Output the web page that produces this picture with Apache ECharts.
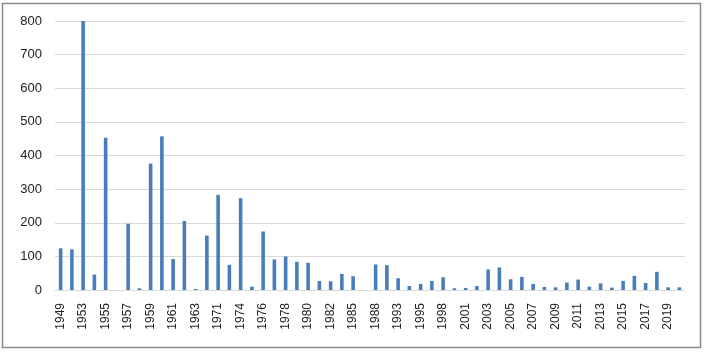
<!DOCTYPE html>
<html>
<head>
<meta charset="utf-8">
<script src="https://cdn.jsdelivr.net/npm/echarts@6/dist/echarts.min.js"></script>
<style>
  html, body { margin: 0; padding: 0; background: #fff; }
  #chart { width: 704px; height: 352px; }
</style>
</head>
<body>
<div id="chart"></div>
<script>
// categories (only every other one gets a label, like the original)
const years = [
  '1949', '1952', '1953', '1954', '1955', '1956', '1957', '1958', '1959', '1960',
  '1961', '1962', '1963', '1969', '1971', '1972', '1974', '1975', '1976', '1977',
  '1978', '1979', '1980', '1981', '1982', '1984', '1985', '1986', '1988', '1989',
  '1993', '1994', '1995', '1996', '1998', '1999', '2001', '2002', '2003', '2004',
  '2005', '2006', '2007', '2008', '2009', '2010', '2011', '2012', '2013', '2014',
  '2015', '2016', '2017', '2018', '2019', '2020'
]

const counts = [
  124, 121, 800, 46, 453, 0, 197, 5, 376, 457,
  92, 205, 3, 162, 283, 75, 273, 10, 174, 91,
  100, 84, 81, 27, 26, 48, 41, 0, 76, 74,
  35, 12, 18, 27, 38, 5, 6, 12, 61, 67,
  32, 39, 18, 9, 8, 22, 31, 10, 20, 7,
  27, 42, 21, 54, 8, 8
]

const yTicks = [0, 100, 200, 300, 400, 500, 600, 700, 800]

const chart = echarts.init(document.getElementById('chart'))

chart.setOption({
  animation: false,
  textStyle: {
    fontFamily: 'Liberation Sans, Arial, sans-serif'
  },
  graphic: [{
    type: 'rect',
    shape: { x: 2.5, y: 3.5, width: 698, height: 344 },
    style: { fill: 'none', stroke: '#8c8c8c', lineWidth: 1.5 },
    silent: true
  }],
  grid: {
    left: 55,
    right: 19,
    top: 21,
    bottom: 62
  },
  xAxis: {
    type: 'category',
    data: years,
    axisLine: { lineStyle: { color: '#d9d9d9' } },
    axisTick: { show: false },
    axisLabel: {
      interval: 1,
      rotate: 90,
      margin: 13,
      fontSize: 12,
      color: '#222'
    }
  },
  yAxis: {
    type: 'value',
    min: yTicks[0],
    max: yTicks[yTicks.length - 1],
    interval: 100,
    axisLine: { show: false },
    axisTick: { show: false },
    axisLabel: {
      margin: 13,
      fontSize: 13,
      color: '#222'
    },
    splitLine: { lineStyle: { color: '#d9d9d9', width: 1 } }
  },
  series: [{
    type: 'bar',
    data: counts,
    barWidth: '32%',
    itemStyle: { color: '#4a7ebb' }
  }]
})
</script>
</body>
</html>
